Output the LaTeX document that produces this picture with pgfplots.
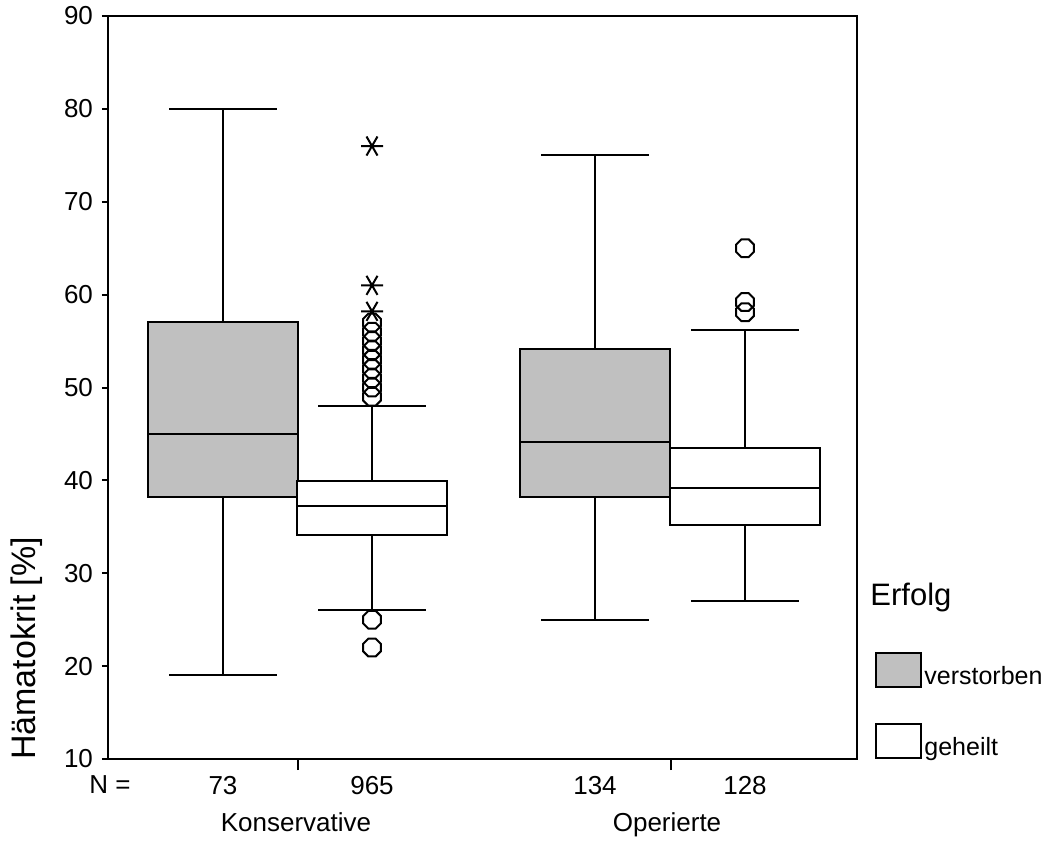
\documentclass[border=0pt]{standalone}
\usepackage{fontspec}
\setmainfont{Liberation Sans}
\usepackage{pgfplots}
\pgfplotsset{compat=1.18}
\usepgfplotslibrary{statistics}
\usetikzlibrary{calc}
\definecolor{boxgray}{HTML}{C0C0C0}

% SPSS style outlier marks
\pgfdeclareplotmark{oct}{%
  \pgfpathmoveto{\pgfpointpolar{22.5}{\pgfplotmarksize}}%
  \foreach \a in {67.5,112.5,157.5,202.5,247.5,292.5,337.5}{%
    \pgfpathlineto{\pgfpointpolar{\a}{\pgfplotmarksize}}}%
  \pgfpathclose\pgfusepathqstroke}
\pgfdeclareplotmark{ast6}{%
  \pgfpathmoveto{\pgfpoint{-\pgfplotmarksize}{0pt}}%
  \pgfpathlineto{\pgfpoint{\pgfplotmarksize}{0pt}}%
  \pgfpathmoveto{\pgfpointpolar{60}{\pgfplotmarksize}}%
  \pgfpathlineto{\pgfpointpolar{240}{\pgfplotmarksize}}%
  \pgfpathmoveto{\pgfpointpolar{120}{\pgfplotmarksize}}%
  \pgfpathlineto{\pgfpointpolar{300}{\pgfplotmarksize}}%
  \pgfusepathqstroke}

\pgfplotsset{
  bx/.style={draw=black, line width=1pt, solid, forget plot},
  outl/.style={only marks, mark=oct, mark size=4.8pt, line width=1pt, black, forget plot},
  ext/.style={only marks, mark=ast6, mark size=5.5pt, line width=1pt, black, forget plot},
}

\begin{document}
\begin{tikzpicture}
\begin{axis}[
  scale only axis,
  width=374.5pt, height=371.5pt,
  xmin=0, xmax=749, ymin=10, ymax=90,
  boxplot/draw direction=y,
  axis line style={line width=1pt},
  tick pos=left, tick align=outside,
  major tick length=3pt,
  tick style={line width=1pt, black},
  ytick={10,20,...,90},
  xtick={2,115,264,487,637},
  xticklabels={N =,73,965,134,128},
  major x tick style={draw=none},
  extra x ticks={190,563},
  extra x tick labels={},
  extra x tick style={major tick length=5.5pt, major x tick style={draw=black, line width=1pt}},
  /pgf/number format/assume math mode=true,
  ticklabel style={font=\fontsize{13}{15}\selectfont},
  yticklabel style={xshift=-1pt},
  xticklabel style={yshift=-2pt},
  ylabel={Hämatokrit [\%]},
  ylabel style={font=\fontsize{17}{20}\selectfont, at={(axis description cs:-0.108,0.149)}, anchor=center},
  legend image code/.code={\draw[#1] (0pt,-5pt) rectangle (22.5pt,12pt);},
  legend style={at={(1,0)}, anchor=south west, xshift=9pt, yshift=-1pt, draw=none, fill=none,
    inner sep=0pt, row sep=17pt, font=\fontsize{12.5}{14}\selectfont,
    nodes={inner sep=1pt}},
  legend cell align=left,
]
\coordinate (sw) at (rel axis cs:0,0);

% Konservative
\addplot[bx, fill=boxgray, boxplot prepared={draw position=115,
  lower whisker=19, lower quartile=38.2, median=45,
  upper quartile=57.1, upper whisker=80,
  box extend=150, whisker extend=108}] coordinates {};
\addplot[bx, fill=white, boxplot prepared={draw position=264,
  lower whisker=26, lower quartile=34.1, median=37.2,
  upper quartile=39.9, upper whisker=48,
  box extend=150, whisker extend=108}] coordinates {};
\addplot[outl] coordinates {(264,49)(264,50)(264,51)(264,52)(264,53)(264,54)(264,55)(264,56)(264,57)(264,25)(264,22)};
\addplot[ext] coordinates {(264,58.2)(264,61)(264,76)};

% Operierte
\addplot[bx, fill=boxgray, boxplot prepared={draw position=487,
  lower whisker=25, lower quartile=38.2, median=44.1,
  upper quartile=54.1, upper whisker=75,
  box extend=150, whisker extend=108}] coordinates {};
\addplot[bx, fill=white, boxplot prepared={draw position=637,
  lower whisker=27, lower quartile=35.2, median=39.2,
  upper quartile=43.5, upper whisker=56.2,
  box extend=150, whisker extend=108}] coordinates {};
\addplot[outl] coordinates {(637,58.1)(637,59.2)(637,65)};

\addlegendimage{fill=boxgray, draw=black, line width=1pt}
\addlegendentry{verstorben}
\addlegendimage{fill=white, draw=black, line width=1pt}
\addlegendentry{geheilt}
\end{axis}

\node[anchor=base, font=\fontsize{13}{15}\selectfont] at ($(sw)+(94pt,-36pt)$) {Konservative};
\node[anchor=base, font=\fontsize{13}{15}\selectfont] at ($(sw)+(279.5pt,-36pt)$) {Operierte};
\node[anchor=base west, inner sep=0pt, font=\fontsize{15.5}{18}\selectfont] at ($(sw)+(381pt,77pt)$) {Erfolg};

\pgfresetboundingbox
\path[use as bounding box] ($(sw)+(-54pt,-42pt)$) rectangle ($(sw)+(472.5pt,379.5pt)$);
\end{tikzpicture}
\end{document}
